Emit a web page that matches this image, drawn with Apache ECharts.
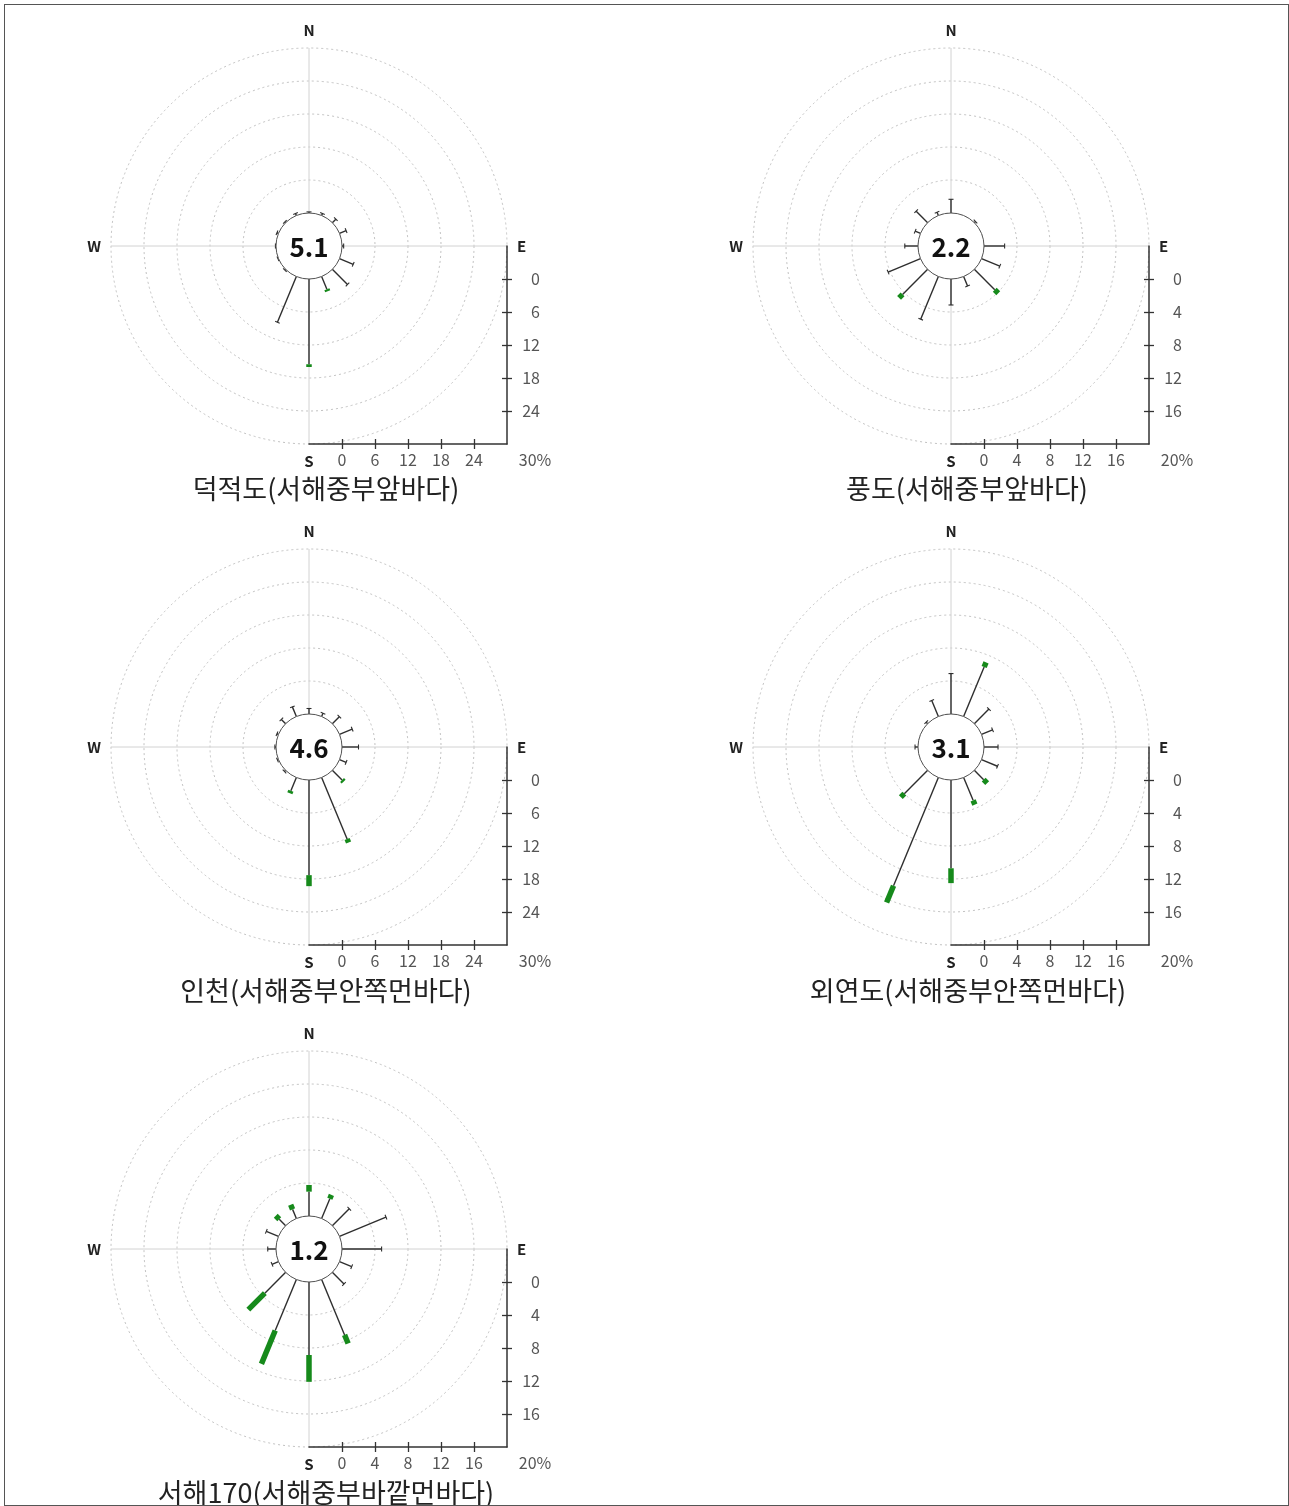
<!DOCTYPE html>
<html>
<head>
<meta charset="utf-8">
<title>서해중부 해역 바람장미</title>
<script src="https://cdn.jsdelivr.net/npm/echarts@6/dist/echarts.min.js"></script>
<style>
  html, body { margin: 0; padding: 0; background: #fff; }
  #chart { width: 1289px; height: 1506px; }
  #frame { position: absolute; left: 4px; top: 4px; width: 1283px; height: 1500px; border: 1px solid #555; pointer-events: none; }
</style>
</head>
<body>
<div id="chart"></div>
<div id="frame"></div>
<script>
// 16 wind directions, clockwise from north
const directions = ['N', 'NNE', 'NE', 'ENE', 'E', 'ESE', 'SE', 'SSE', 'S', 'SSW', 'SW', 'WSW', 'W', 'WNW', 'NW', 'NNW'];

const stationTitles = [
  '덕적도(서해중부앞바다)',
  '풍도(서해중부앞바다)',
  '인천(서해중부안쪽먼바다)',
  '외연도(서해중부안쪽먼바다)',
  '서해170(서해중부바깥먼바다)'
];

// calm (%) shown in the middle circle
const calmPercent = [5.1, 2.2, 4.6, 3.1, 1.2];

// frequency scale (%) of each rose
const axisMax = [30, 20, 30, 20, 20];
const axisStep = [6, 4, 6, 4, 4];
const tickLabels30 = [0, 6, 12, 18, 24];
const tickLabels20 = [0, 4, 8, 12, 16];

// cumulative frequency (%) where the thin line ends, per direction
const deokjeokLine  = [0.2, 0.4, 0.9, 1.3, 0.3, 2.7, 3.9, 2.5, 15.5, 9.0, 0.2, 0.1, 0.1, 0.3, 0.2, 0.4];
const pungdoLine    = [1.66, 0, 0.2, 0, 2.5, 2.4, 3.5, 1.25, 3.15, 5.6, 4.3, 4.25, 1.6, 0.7, 1.97, 0.43];
const incheonLine   = [1.0, 0.65, 1.8, 2.5, 3.0, 1.3, 2.5, 12.1, 17.3, 2.6, 0.3, 0.2, 0.2, 0.3, 1.1, 1.9];
const oeyeonLine    = [4.9, 6.5, 2.5, 1.45, 1.7, 2.1, 1.6, 3.0, 10.7, 14.2, 4.0, 0, 0.36, 0, 0.25, 2.1];
const seohae170Line = [2.95, 2.6, 2.9, 6.1, 4.8, 1.6, 2.0, 7.27, 8.85, 6.7, 3.57, 0.85, 1.0, 1.6, 1.1, 1.2];

// cumulative frequency (%) where the strong-wind (green) part ends; 0 = none
const deokjeokGreen  = [0, 0, 0, 0, 0, 0, 0, 2.9, 16.0, 0, 0, 0, 0, 0, 0, 0];
const pungdoGreen    = [0, 0, 0, 0, 0, 0, 4.1, 0, 0, 0, 4.9, 0, 0, 0, 0, 0];
const incheonGreen   = [0, 0, 0, 0, 0, 0, 2.9, 12.8, 19.3, 3.1, 0, 0, 0, 0, 0, 0];
const oeyeonGreen    = [0, 7.1, 0, 0, 0, 0, 2.2, 3.56, 12.5, 16.4, 4.6, 0, 0, 0, 0, 0];
const seohae170Green = [3.76, 3.1, 0, 0, 0, 0, 0, 8.39, 12.1, 11.07, 6.4, 0, 0, 0, 1.7, 1.8];

const lineEnds = [deokjeokLine, pungdoLine, incheonLine, oeyeonLine, seohae170Line];
const greenEnds = [deokjeokGreen, pungdoGreen, incheonGreen, oeyeonGreen, seohae170Green];

const compassLabels = { 0: 'N', 90: 'E', 180: 'S', 270: 'W' };

const FONT = '"Noto Sans CJK KR", "Noto Sans", sans-serif';
const centers = [[309, 246], [951, 246], [309, 747], [951, 747], [309, 1249]];
const titlePos = [[326, 489], [967, 489], [326, 991], [968, 991], [326, 1493]];
const R = 198;

function renderArm(params, api) {
  const ang = api.value(1);
  const lineEnd = api.value(2);
  const greenEnd = api.value(3);
  if (lineEnd <= 0 && greenEnd <= 0) return null;
  const p0 = api.coord([0, ang]);
  const p1 = api.coord([lineEnd, ang]);
  const children = [{
    type: 'line',
    shape: { x1: p0[0], y1: p0[1], x2: p1[0], y2: p1[1] },
    style: { stroke: '#2e2e2e', lineWidth: 1.4 }
  }];
  if (greenEnd > lineEnd) {
    const p2 = api.coord([greenEnd, ang]);
    children.push({
      type: 'line',
      shape: { x1: p1[0], y1: p1[1], x2: p2[0], y2: p2[1] },
      style: { stroke: '#168a1b', lineWidth: 5.5, lineCap: 'butt' }
    });
  } else {
    // short cross bar closing the arm
    const t = ang * Math.PI / 180;
    const px = Math.cos(t) * 2.5, py = Math.sin(t) * 2.5;
    children.push({
      type: 'line',
      shape: { x1: p1[0] - px, y1: p1[1] - py, x2: p1[0] + px, y2: p1[1] + py },
      style: { stroke: '#2e2e2e', lineWidth: 1.1 }
    });
  }
  return { type: 'group', children: children };
}

function renderCalm(params, api) {
  const c = api.coord([api.value(0), 0]);
  const e = api.coord([0, 0]);
  const r = Math.hypot(e[0] - c[0], e[1] - c[1]);
  return {
    type: 'group',
    children: [
      { type: 'circle', shape: { cx: c[0], cy: c[1], r: r }, style: { fill: '#fff', stroke: '#555', lineWidth: 1 } },
      { type: 'text', style: { x: c[0], y: c[1] + 1, text: api.value(2).toFixed(1), align: 'center', verticalAlign: 'middle',
        fontSize: 26, fontWeight: 'bold', fontFamily: FONT, fill: '#111' } }
    ]
  };
}

const option = {
  animation: false,
  backgroundColor: '#fff',
  title: [], polar: [], angleAxis: [], radiusAxis: [], grid: [], xAxis: [], yAxis: [], series: []
};

centers.forEach(function (c, i) {
  const max = axisMax[i], step = axisStep[i], min = -step;
  const ticks = max === 30 ? tickLabels30 : tickLabels20;

  option.title.push({
    text: stationTitles[i], left: titlePos[i][0], top: titlePos[i][1],
    textAlign: 'center', textVerticalAlign: 'middle', padding: 0,
    textStyle: { fontSize: 27, fontWeight: 'normal', color: '#222', fontFamily: FONT }
  });

  option.polar.push({ center: c, radius: R });
  option.angleAxis.push({
    polarIndex: i, type: 'value', min: 0, max: 360, interval: 90, startAngle: 90, clockwise: true,
    axisLine: { show: false }, axisTick: { show: false },
    splitLine: { show: true, lineStyle: { color: '#d2d2d2', width: 1 } },
    axisLabel: { margin: 10, color: '#222', fontSize: 15, fontWeight: 'bold', fontFamily: FONT,
      formatter: function (v) { return compassLabels[v] || ''; } }
  });
  option.radiusAxis.push({
    polarIndex: i, type: 'value', min: min, max: max, interval: step,
    axisLine: { show: false }, axisTick: { show: false }, axisLabel: { show: false },
    splitLine: { show: true, lineStyle: { color: '#c2c2c2', type: [2, 3], width: 1 } }
  });

  // frequency scale along the south and east edges
  option.grid.push({ left: c[0], top: c[1], width: R, height: R });
  const labelStyle = { color: '#555', fontSize: 16, fontFamily: FONT };
  option.xAxis.push({
    gridIndex: i, type: 'value', min: min, max: max, interval: step, position: 'bottom',
    axisLine: { show: true, onZero: false, lineStyle: { color: '#333', width: 1.5 } },
    axisTick: { show: true, inside: true, length: 5, customValues: ticks, lineStyle: { color: '#333', width: 1.3 } },
    axisLabel: Object.assign({
      margin: 8, customValues: ticks.concat([max]),
      formatter: function (v) { return v === max ? '{p|' + max + '%}' : String(v); },
      rich: { p: { color: '#555', fontSize: 16, fontFamily: FONT, padding: [0, 0, 0, 56] } }
    }, labelStyle),
    splitLine: { show: false }
  });
  option.xAxis.push({
    gridIndex: i, type: 'value', min: min, max: max, interval: step, position: 'bottom',
    axisLine: { show: false, onZero: false },
    axisTick: { show: true, inside: false, length: 5, customValues: ticks, lineStyle: { color: '#333', width: 1.3 } },
    axisLabel: { show: false }, splitLine: { show: false }
  });
  option.yAxis.push({
    gridIndex: i, type: 'value', min: min, max: max, interval: step, position: 'right', inverse: true,
    axisLine: { show: true, onZero: false, lineStyle: { color: '#333', width: 1.5 } },
    axisTick: { show: true, inside: true, length: 5, customValues: ticks, lineStyle: { color: '#333', width: 1.3 } },
    axisLabel: Object.assign({ margin: 33, align: 'right', customValues: ticks }, labelStyle),
    splitLine: { show: false }
  });
  option.yAxis.push({
    gridIndex: i, type: 'value', min: min, max: max, interval: step, position: 'right', inverse: true,
    axisLine: { show: false, onZero: false },
    axisTick: { show: true, inside: false, length: 5, customValues: ticks, lineStyle: { color: '#333', width: 1.3 } },
    axisLabel: { show: false }, splitLine: { show: false }
  });

  option.series.push({
    type: 'custom', coordinateSystem: 'polar', polarIndex: i, silent: true,
    encode: { radius: 0, angle: 1 },
    data: directions.map(function (d, k) {
      return [Math.max(lineEnds[i][k], greenEnds[i][k]), k * 22.5, lineEnds[i][k], greenEnds[i][k]];
    }),
    renderItem: renderArm
  });
  option.series.push({
    type: 'custom', coordinateSystem: 'polar', polarIndex: i, silent: true,
    encode: { radius: 0, angle: 1 },
    data: [[min, 0, calmPercent[i]]],
    renderItem: renderCalm
  });
});

const chart = echarts.init(document.getElementById('chart'), null, { renderer: 'canvas' });
chart.setOption(option);
</script>
</body>
</html>
